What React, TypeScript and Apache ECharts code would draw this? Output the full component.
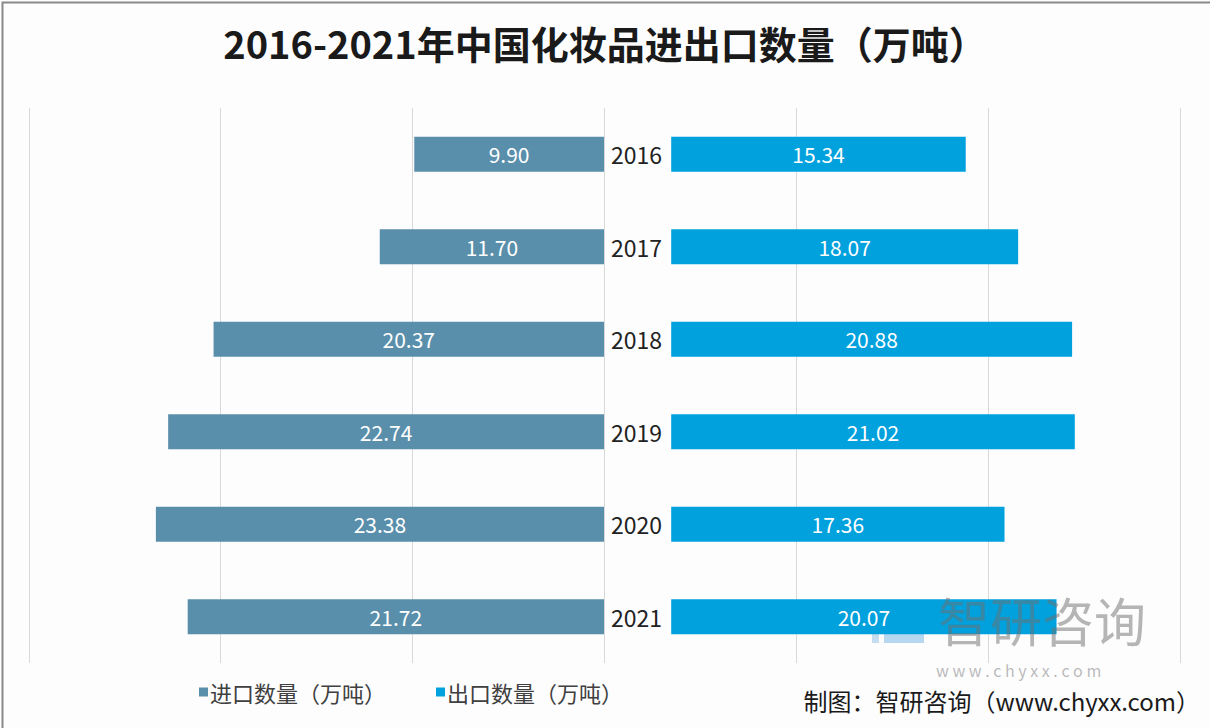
import React, { useEffect, useRef } from "react";
import * as echarts from "echarts";

const years = ["2016", "2017", "2018", "2019", "2020", "2021"];
const importValues = [9.9, 11.7, 20.37, 22.74, 23.38, 21.72];
const exportValues = [15.34, 18.07, 20.88, 21.02, 17.36, 20.07];
const seriesNames = ["进口数量（万吨）", "出口数量（万吨）"];
const titleText = "2016-2021年中国化妆品进出口数量（万吨）";
const sourceText = "制图：智研咨询（www.chyxx.com）";

const IMPORT_COLOR = "#5a8fab";
const EXPORT_COLOR = "#00a1dd";
const FONT = "'Noto Sans CJK SC', 'Noto Sans', sans-serif";

export default function App() {
  const ref = useRef<HTMLDivElement>(null);
  useEffect(() => {
    if (!ref.current) return;
    const chart = echarts.init(ref.current, undefined, { renderer: "svg" });
    const gridTop = 108;
    const gridHeight = 555;
    const barLabel = {
      show: true,
      position: "inside",
      color: "#fff",
      fontSize: 21,
      fontFamily: FONT,
      formatter: (p: any) => Number(p.value).toFixed(2),
    };
    chart.setOption({
      animation: false,
      backgroundColor: "#fdfdfe",
      textStyle: { fontFamily: FONT },
      title: {
        text: titleText,
        left: "center",
        top: 18,
        textStyle: { fontSize: 38, fontWeight: "bold", color: "#1a1a1a", fontFamily: FONT },
      },
      legend: {
        left: 194,
        top: 676,
        itemWidth: 9,
        itemHeight: 9,
        itemGap: 50,
        icon: "rect",
        textStyle: { fontSize: 22, color: "#404040", fontFamily: FONT, padding: [0, 0, 0, -3] },
        data: seriesNames,
      },
      grid: [
        { left: 29, width: 575, top: gridTop, height: gridHeight },
        { left: 604, width: 576, top: gridTop, height: gridHeight },
      ],
      xAxis: [
        {
          gridIndex: 0,
          type: "value",
          inverse: true,
          min: 0,
          max: 30,
          interval: 10,
          axisLabel: { show: false },
          axisLine: { show: false },
          axisTick: { show: false },
          splitLine: { show: true, lineStyle: { color: "#d9d9d9", width: 1 } },
        },
        {
          gridIndex: 1,
          type: "value",
          min: -3.5,
          max: 26.5,
          interval: 10,
          axisLabel: { show: false },
          axisLine: { show: false },
          axisTick: { show: false },
          splitLine: { show: true, lineStyle: { color: "#d9d9d9", width: 1 } },
        },
      ],
      yAxis: [
        {
          gridIndex: 0,
          type: "category",
          data: years,
          inverse: true,
          position: "right",
          axisLine: { show: false },
          axisTick: { show: false },
          axisLabel: { show: true, margin: 7, fontSize: 23, color: "#222", fontFamily: FONT },
        },
        {
          gridIndex: 1,
          type: "category",
          data: years,
          inverse: true,
          axisLine: { show: false },
          axisTick: { show: false },
          axisLabel: { show: false },
        },
      ],
      series: [
        {
          name: seriesNames[0],
          type: "bar",
          xAxisIndex: 0,
          yAxisIndex: 0,
          data: importValues,
          barWidth: 35,
          itemStyle: { color: IMPORT_COLOR },
          label: barLabel,
        },
        {
          name: seriesNames[1],
          type: "bar",
          xAxisIndex: 1,
          yAxisIndex: 1,
          data: exportValues,
          barWidth: 35,
          itemStyle: { color: EXPORT_COLOR },
          label: barLabel,
        },
      ],
      graphic: [
        {
          type: "rect",
          left: 0,
          top: 0,
          z: 100,
          shape: { width: 1209, height: 727 },
          style: { fill: "none", stroke: "#8a8a8a", lineWidth: 2 },
          silent: true,
        },
        {
          type: "group",
          left: 872,
          top: 606,
          z: 100,
          silent: true,
          children: [
            { type: "rect", shape: { x: 0, y: 0, width: 7, height: 9 }, style: { fill: "#9fc7e6", opacity: 0.6 } },
            { type: "rect", shape: { x: 0, y: 14, width: 7, height: 9 }, style: { fill: "#9fc7e6", opacity: 0.6 } },
            { type: "rect", shape: { x: 0, y: 28, width: 7, height: 9 }, style: { fill: "#9fc7e6", opacity: 0.6 } },
            { type: "rect", shape: { x: 12, y: 0, width: 40, height: 10 }, style: { fill: "#2f8fd6", opacity: 0.35 } },
            { type: "rect", shape: { x: 12, y: 14, width: 12, height: 10 }, style: { fill: "#2f8fd6", opacity: 0.35 } },
            { type: "rect", shape: { x: 12, y: 27, width: 40, height: 10 }, style: { fill: "#2f8fd6", opacity: 0.35 } },
          ],
        },
        {
          type: "text",
          left: 938,
          top: 593,
          z: 100,
          silent: true,
          style: { text: "智研咨询", fontSize: 52, lineHeight: 52, fill: "rgba(110,110,110,0.5)", fontFamily: FONT },
        },
        {
          type: "text",
          left: 936,
          top: 662,
          z: 100,
          silent: true,
          style: { text: "w w w . c h y x x . c o m", fontSize: 16, lineHeight: 16, fill: "rgba(140,140,140,0.6)", fontFamily: FONT },
        },
        {
          type: "text",
          right: 10,
          top: 688,
          z: 100,
          silent: true,
          style: { text: sourceText, fontSize: 24, lineHeight: 24, fill: "#1a1a1a", fontFamily: FONT },
        },
      ],
    });
    return () => chart.dispose();
  }, []);
  return <div ref={ref} style={{ position: "fixed", left: 0, top: 0, width: 1210, height: 728 }} />;
}
